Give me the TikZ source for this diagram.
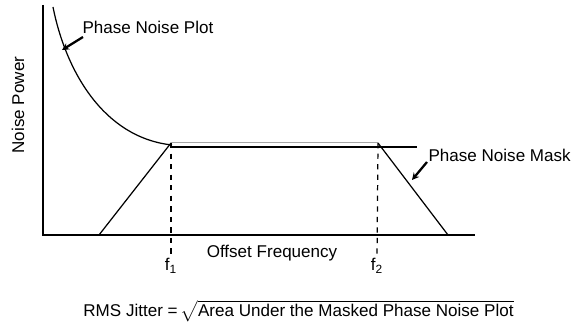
\documentclass[tikz,border=0pt]{standalone}
\usepackage{fontspec}
\setmainfont{Liberation Sans}
\usepackage{tikz}
\usetikzlibrary{arrows.meta}
\tikzset{>=stealth}
\tikzset{%
    lbl/.style={inner sep=0pt, font=\fontsize{9.7}{11.6}\selectfont},
    pointer/.style={-{Stealth[length=4pt,width=4pt]}, line width=1.3pt},
    masked/.style={gray!70, double=white, double distance=0.5pt, line width=0.45pt}
}

\begin{document}
\begin{tikzpicture}[line width=0.7pt]
    \useasboundingbox (-0.86,-1.82) rectangle (10.84,4.7);
    % axes
    \coordinate (o) at (0,0);
    \coordinate (ytop) at (0,4.6);
    \coordinate (xend) at (8.64,0);
    \draw (ytop) -- (o) -- (xend);
    \node[lbl, rotate=90] (ylab) at (-0.5,2.6) {Noise Power};
    \node[lbl] (xlab) at (4.58,-0.36) {Offset Frequency};
    % mask corners
    \coordinate (m1) at (1.12,0);
    \coordinate (f1) at (2.56,1.84);
    \coordinate (f2) at (6.7,1.84);
    \coordinate (m2) at (8.1,0);
    \coordinate (floor) at (7.48,1.76);
    % phase noise plot
    \draw (0.2,4.56) .. controls (0.45,3.3) and (1.2,1.95) .. (2.58,1.8);
    \draw (2.58,1.76) -- (floor);
    % phase noise mask
    \draw (m1) -- (f1);
    \draw (f2) -- (m2);
    \draw[masked] (f1) -- (f2);
    % offset frequencies
    \node[lbl] (f1lab) at (2.56,-0.62) {f\textsubscript{1}};
    \node[lbl] (f2lab) at (6.68,-0.62) {f\textsubscript{2}};
    \draw[dashed] (f1) -- (f1lab.north);
    \draw[dashed] (f2) -- (f2lab.north);
    % labels with pointers
    \node[lbl, anchor=west] (plot) at (0.78,4.16) {Phase Noise Plot};
    \coordinate (onplot) at (0.38,3.7);
    \draw[pointer] (0.8,3.96) -- (onplot);
    \node[lbl, anchor=west] (mask) at (7.7,1.6) {Phase Noise Mask};
    \coordinate (onmask) at (7.38,1.1);
    \draw[pointer] (7.68,1.46) -- (onmask);
    % jitter
    \node[lbl] (jitter) at (5.11,-1.52)
        {RMS Jitter =\,$\sqrt{\mbox{\rule[-3pt]{0pt}{11pt}Area Under the Masked Phase Noise Plot}}$};
\end{tikzpicture}
\end{document}
